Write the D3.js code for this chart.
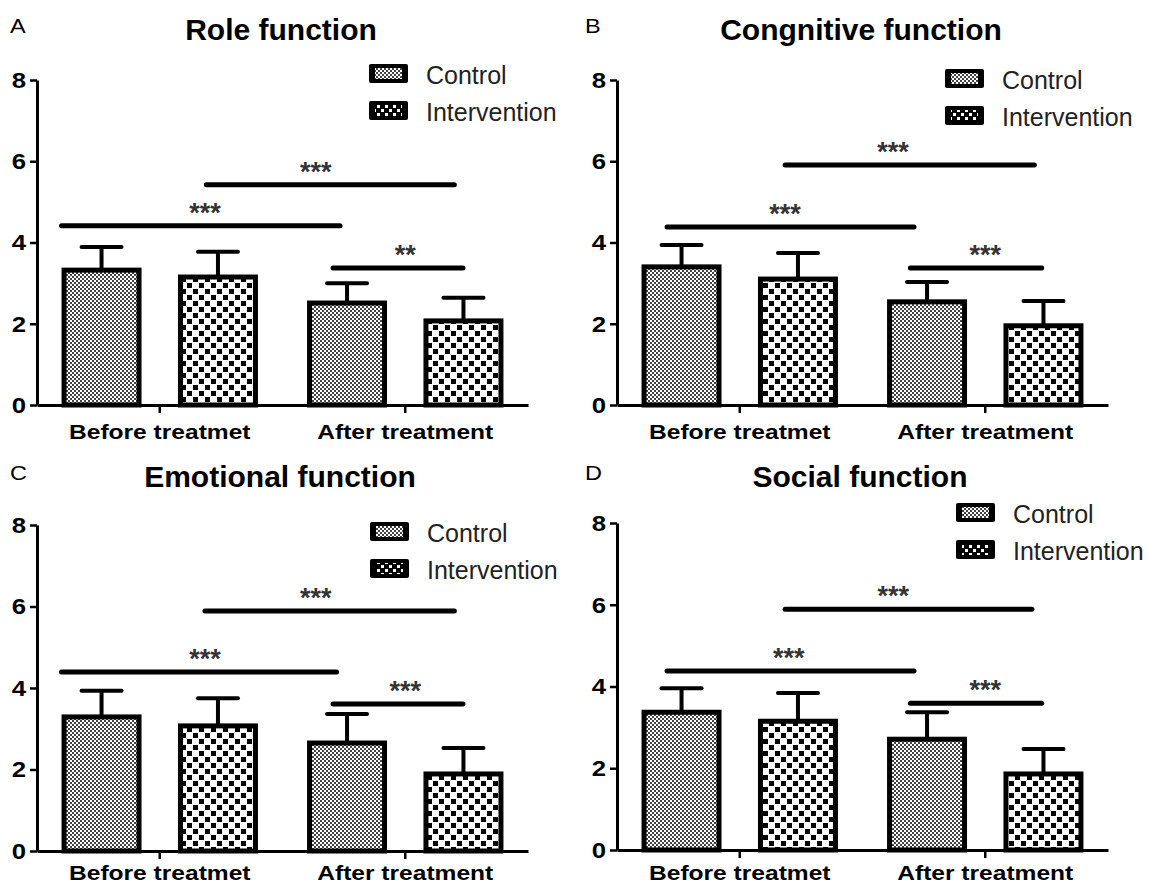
<!DOCTYPE html>
<html><head><meta charset="utf-8">
<script src="https://cdnjs.cloudflare.com/ajax/libs/d3/7.8.5/d3.min.js"></script>
<style>body{margin:0;background:#fff}svg{display:block}</style>
</head><body><svg id="c" width="1149" height="886"></svg>
<script>
// ---------- data ----------
const categories = ["Before treatmet", "After treatment"];
const seriesNames = ["Control", "Intervention"];
const panelTitles = ["Role function", "Congnitive function", "Emotional function", "Social function"];
const panelLetters = ["A", "B", "C", "D"];
const yTicks = [0, 2, 4, 6, 8];
const controlMean = [[3.32, 2.51], [3.40, 2.54], [3.29, 2.65], [3.37, 2.71]];
const controlSD = [[0.57, 0.49], [0.54, 0.49], [0.64, 0.71], [0.59, 0.66]];
const interventionMean = [[3.15, 2.07], [3.10, 1.95], [3.07, 1.89], [3.15, 1.86]];
const interventionSD = [[0.62, 0.57], [0.64, 0.61], [0.68, 0.64], [0.69, 0.61]];
// significance brackets (x in category units 0..2, y in score units)
const sigX1 = [[0.69, 0.10, 1.206], [0.685, 0.204, 1.195], [0.684, 0.10, 1.206], [0.685, 0.204, 1.195]];
const sigX2 = [[1.70, 1.234, 1.735], [1.70, 1.21, 1.73], [1.70, 1.22, 1.735], [1.69, 1.21, 1.73]];
const sigY = [[5.42, 4.41, 3.37], [5.91, 4.38, 3.37], [5.89, 4.39, 3.61], [5.89, 4.38, 3.59]];
const sigLabel = [["***", "***", "**"], ["***", "***", "***"], ["***", "***", "***"], ["***", "***", "***"]];
const sigLabelX = [[1.136, 0.684, 1.5], [1.124, 0.684, 1.5], [1.136, 0.684, 1.5], [1.125, 0.70, 1.5]];

// ---------- layout ----------
const layout = [
  {ax: 37, axEnd: 528, y0: 405, y8: 80, titleX: 281, titleY: 40, letterX: 10, letterY: 33, labY: 439, legX: 426, legY: 84},
  {ax: 617, axEnd: 1108, y0: 405, y8: 80, titleX: 861, titleY: 40, letterX: 585, letterY: 33, labY: 439, legX: 1002, legY: 89},
  {ax: 37, axEnd: 528, y0: 851, y8: 525, titleX: 280, titleY: 487, letterX: 10, letterY: 480, labY: 880, legX: 427, legY: 542},
  {ax: 617, axEnd: 1108, y0: 850, y8: 523, titleX: 860, titleY: 487, letterX: 585, letterY: 480, labY: 880, legX: 1013, legY: 523}
];

const svg = d3.select("#c");
svg.append("rect").attr("width", 1149).attr("height", 886).attr("fill", "#fff");
const defs = svg.append("defs");
const p1 = defs.append("pattern").attr("id", "patC").attr("patternUnits", "userSpaceOnUse").attr("width", 4).attr("height", 4);
p1.append("rect").attr("width", 4).attr("height", 4).attr("fill", "#fff");
p1.append("rect").attr("width", 2).attr("height", 2).attr("fill", "#444");
p1.append("rect").attr("x", 2).attr("y", 2).attr("width", 2).attr("height", 2).attr("fill", "#444");
const p2 = defs.append("pattern").attr("id", "patI").attr("patternUnits", "userSpaceOnUse").attr("width", 12).attr("height", 12);
p2.append("rect").attr("width", 12).attr("height", 12).attr("fill", "#fff");
p2.append("rect").attr("x", 1).attr("y", 1).attr("width", 5).attr("height", 5).attr("fill", "#000");
p2.append("rect").attr("x", 7).attr("y", 7).attr("width", 5).attr("height", 5).attr("fill", "#000");
const p3 = defs.append("pattern").attr("id", "patIL").attr("patternUnits", "userSpaceOnUse").attr("width", 8).attr("height", 8);
p3.append("rect").attr("width", 8).attr("height", 8).attr("fill", "#000");
p3.append("rect").attr("x", 1).attr("y", 1).attr("width", 3).attr("height", 3).attr("fill", "#fff");
p3.append("rect").attr("x", 5).attr("y", 5).attr("width", 3).attr("height", 3).attr("fill", "#fff");
const fills = {Control: "url(#patC)", Intervention: "url(#patI)"};
const legendFills = {Control: "url(#patC)", Intervention: "url(#patIL)"};
const FONT = "'Liberation Sans', Arial, sans-serif";

panelTitles.forEach((title, pi) => {
  const L = layout[pi];
  const g = svg.append("g");
  const y = d3.scaleLinear().domain([0, 8]).range([L.y0, L.y8]);
  const xBand = d3.scaleBand().domain(categories).range([L.ax, L.axEnd]).padding(0);
  const xLin = d3.scaleLinear().domain([0, 2]).range([L.ax, L.axEnd]);
  const bw = xBand.bandwidth();
  const xs = d3.scaleBand().domain(seriesNames).range([0.1 * bw, 0.9 * bw]).paddingInner(0.313).paddingOuter(0);

  // letter + title
  g.append("text").attr("x", L.letterX).attr("y", L.letterY).text(panelLetters[pi])
    .attr("font-family", FONT).attr("font-size", 21).attr("transform", `translate(${L.letterX},0) scale(1.12,1) translate(${-L.letterX},0)`);
  g.append("text").attr("x", L.titleX).attr("y", L.titleY).attr("text-anchor", "middle").text(title)
    .attr("font-family", FONT).attr("font-size", 30).attr("font-weight", "bold");

  // bars
  const rows = [];
  categories.forEach((c, ci) => {
    rows.push({cat: c, s: "Control", v: controlMean[pi][ci], e: controlSD[pi][ci]});
    rows.push({cat: c, s: "Intervention", v: interventionMean[pi][ci], e: interventionSD[pi][ci]});
  });
  rows.forEach(d => {
    const x0 = xBand(d.cat) + xs(d.s);
    const w = xs.bandwidth();
    const cx = x0 + w / 2;
    g.append("line").attr("x1", cx).attr("x2", cx).attr("y1", y(d.v)).attr("y2", y(d.v + d.e))
      .attr("stroke", "#000").attr("stroke-width", 4);
    g.append("line").attr("x1", cx - w / 4).attr("x2", cx + w / 4).attr("y1", y(d.v + d.e)).attr("y2", y(d.v + d.e))
      .attr("stroke", "#000").attr("stroke-width", 4).attr("stroke-linecap", "round");
    g.append("rect").attr("x", x0 + 2.5).attr("width", w - 5).attr("y", y(d.v)).attr("height", y(0) - y(d.v))
      .attr("fill", fills[d.s]).attr("stroke", "#000").attr("stroke-width", 5);
  });

  // axes
  const ya = g.append("g").attr("transform", `translate(${L.ax},0)`)
    .call(d3.axisLeft(y).tickValues(yTicks).tickSize(7).tickSizeOuter(0).tickPadding(3));
  ya.select(".domain").attr("stroke-width", 3);
  ya.selectAll(".tick line").attr("stroke-width", 2.5);
  ya.selectAll(".tick text").attr("font-family", FONT).attr("font-size", 23).attr("font-weight", "bold")
    .attr("fill", "#000").attr("transform", "scale(1.12,1)").attr("x", -11 / 1.12);
  const xa = g.append("g").attr("transform", `translate(0,${L.y0})`)
    .call(d3.axisBottom(xBand).tickSize(8).tickSizeOuter(0).tickPadding(10));
  xa.select(".domain").attr("stroke-width", 3);
  xa.selectAll(".tick line").attr("stroke-width", 2.5);
  xa.selectAll(".tick text").attr("font-family", FONT).attr("font-size", 21).attr("font-weight", "bold")
    .attr("fill", "#000").attr("y", L.labY - L.y0).attr("dy", 0).attr("transform", "scale(1.17,1)");

  // significance brackets
  sigY[pi].forEach((sy, k) => {
    g.append("line").attr("x1", xLin(sigX1[pi][k])).attr("x2", xLin(sigX2[pi][k]))
      .attr("y1", y(sy)).attr("y2", y(sy)).attr("stroke", "#000").attr("stroke-width", 5).attr("stroke-linecap", "round");
    g.append("text").attr("x", xLin(sigLabelX[pi][k])).attr("y", y(sy) - 4).attr("text-anchor", "middle")
      .text(sigLabel[pi][k]).attr("font-family", FONT).attr("font-size", 27).attr("font-weight", "bold").attr("fill", "#333");
  });

  // legend
  seriesNames.forEach((s, k) => {
    const by = L.legY + k * 37;
    g.append("rect").attr("x", L.legX - 57).attr("y", by - 20).attr("width", 39).attr("height", 19)
      .attr("rx", 2).attr("fill", "#000");
    g.append("rect").attr("x", L.legX - 51).attr("y", by - 16).attr("width", 27).attr("height", 11)
      .attr("fill", legendFills[s]);
    g.append("text").attr("x", L.legX).attr("y", by).text(s)
      .attr("font-family", FONT).attr("font-size", 25).attr("fill", "#222");
  });
});
</script></body></html>
